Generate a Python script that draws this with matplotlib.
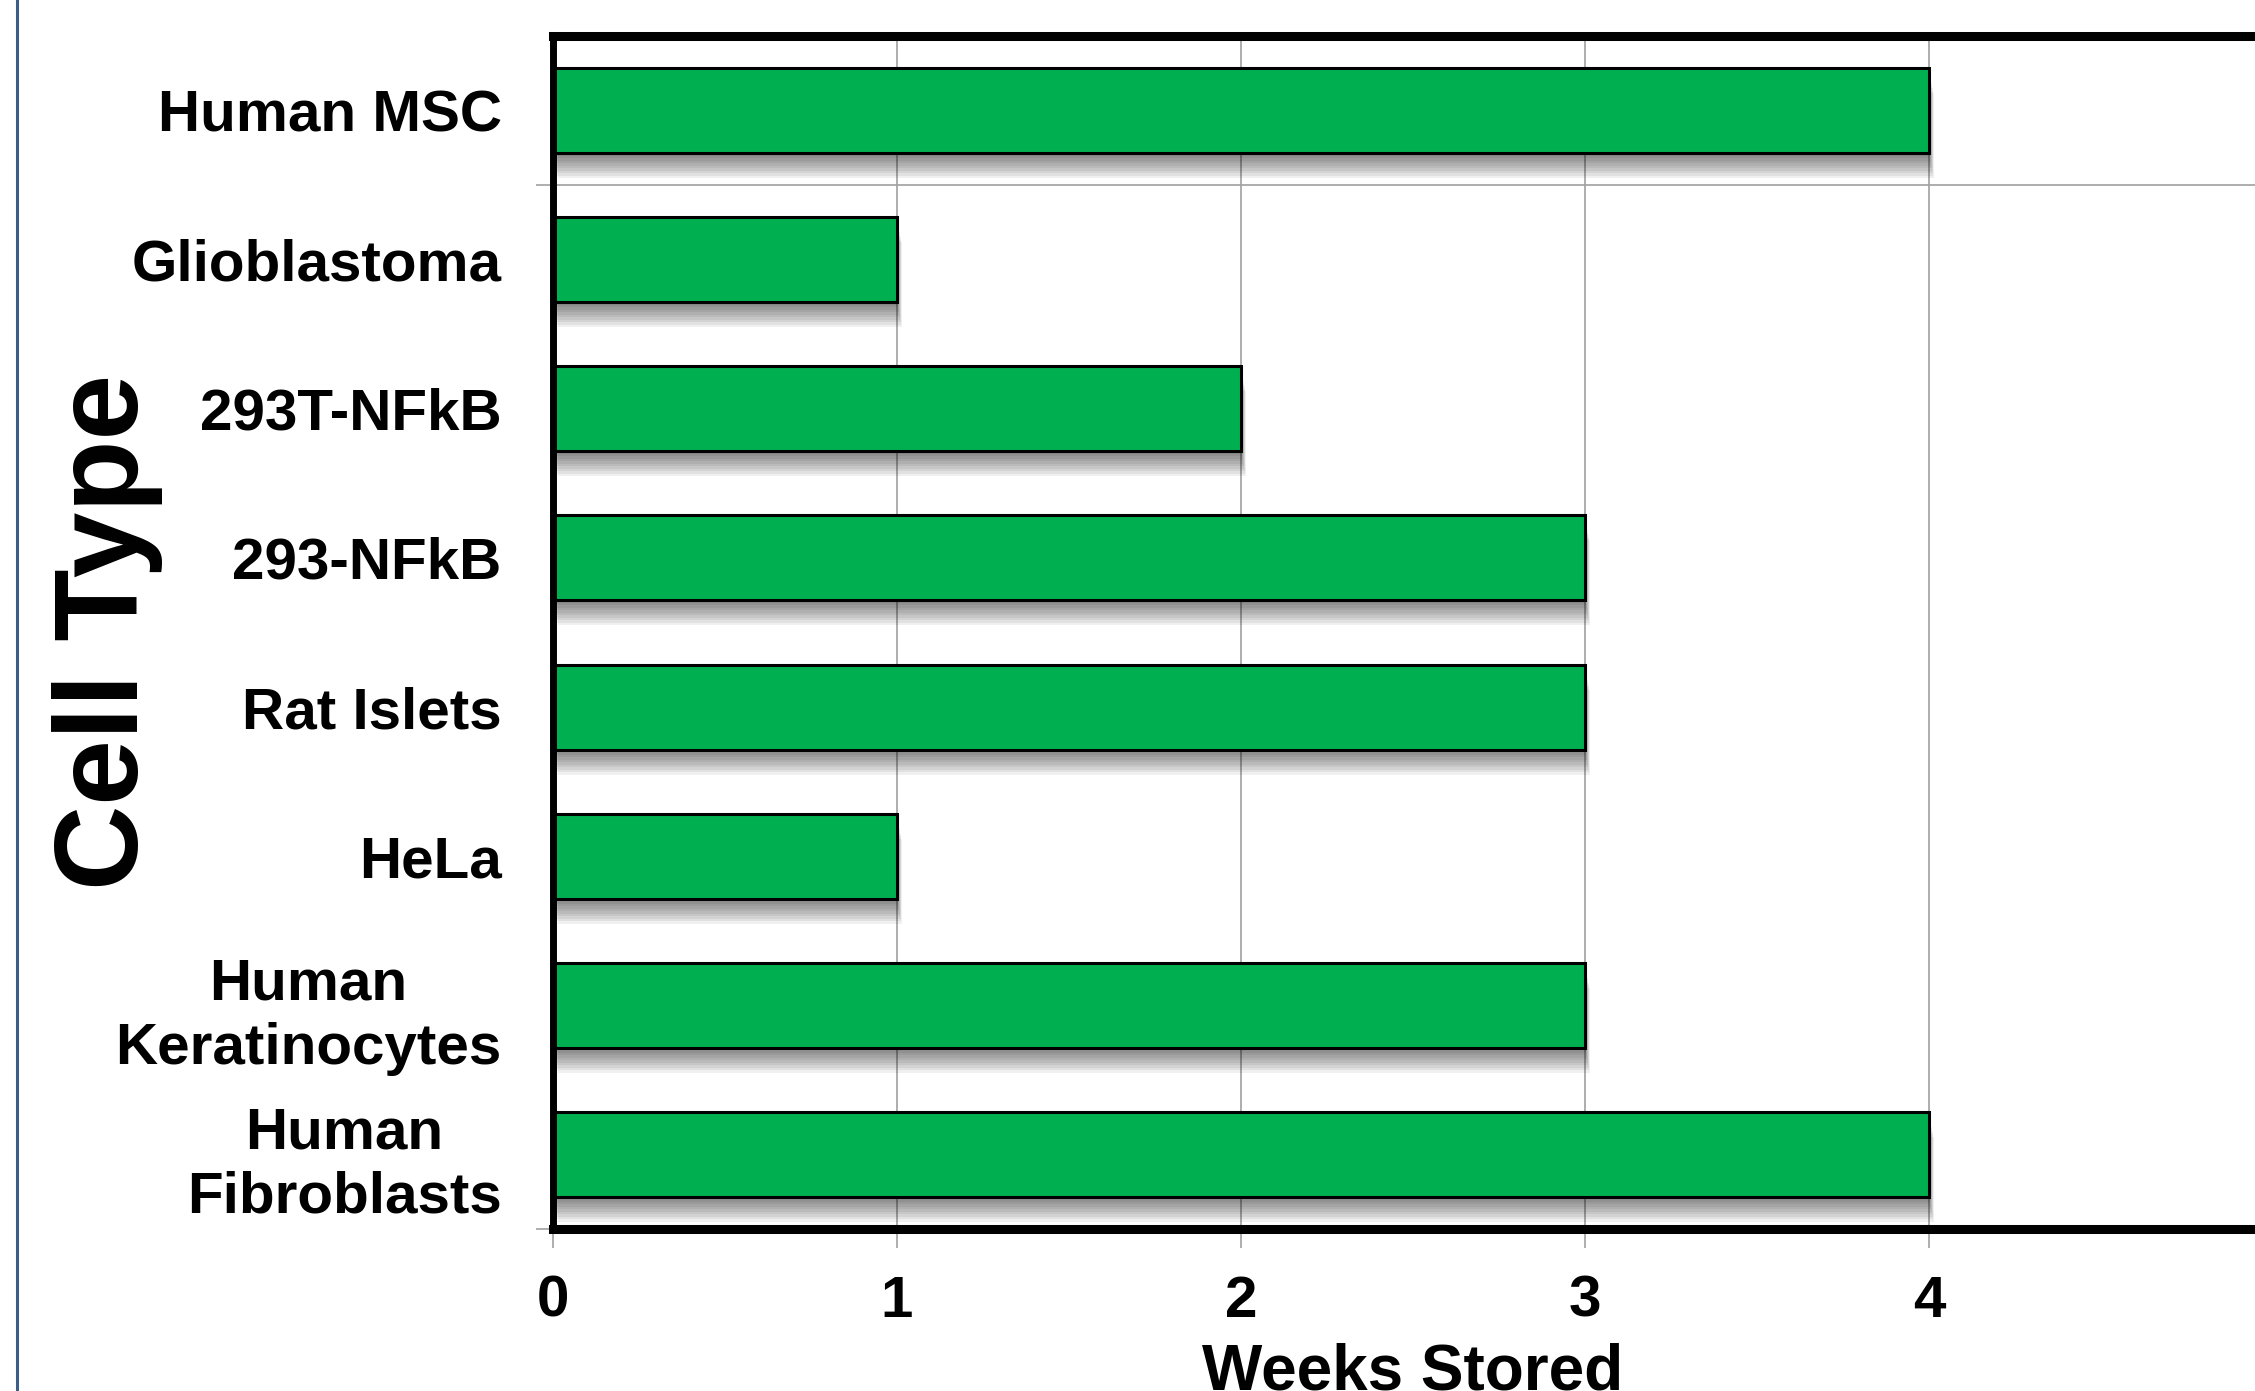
import matplotlib
matplotlib.use("Agg")
import matplotlib.pyplot as plt
import matplotlib.patheffects as pe
from matplotlib.lines import Line2D
import numpy as np

# ---- data (bottom to top) ----
cell_types = ["Human\nFibroblasts", "Human\nKeratinocytes", "HeLa", "Rat Islets",
              "293-NFkB", "293T-NFkB", "Glioblastoma", "Human MSC"]
weeks_stored = [4, 3, 1, 3, 3, 2, 1, 4]
x_ticks = [0, 1, 2, 3, 4]
x_tick_labels = ["0", "1", "2", "3", "4"]

plt.rcParams['font.family'] = ['Liberation Sans', 'DejaVu Sans']
plt.rcParams['font.weight'] = 'bold'

W, H = 2255, 1391
DPI = 100
fig = plt.figure(figsize=(W / DPI, H / DPI), dpi=DPI)
fig.patch.set_facecolor('white')

left_px, right_px, top_px, bottom_px = 553, 2273, 36, 1229
ax = fig.add_axes([left_px / W, 1 - bottom_px / H,
                   (right_px - left_px) / W, (bottom_px - top_px) / H])

ypos = np.arange(len(cell_types))

shadow = [pe.SimplePatchShadow(offset=(0.35 * k, -1.8 * k), shadow_rgbFace='black', alpha=0.06)
          for k in range(1, 11)] + [pe.Normal()]

ax.barh(ypos, weeks_stored, height=0.57, color='#00B050', edgecolor='black',
        linewidth=2.2, zorder=3, path_effects=shadow)

ax.set_xlim(0, 5)
ax.set_ylim(-0.5, len(cell_types) - 0.5)

ax.set_xticks(x_ticks)
ax.set_xticklabels(x_tick_labels, fontsize=42, fontweight='bold')
ax.tick_params(axis='x', direction='out', length=14, width=1.1, color='#999999', pad=19)

ax.set_yticks(ypos)
ax.set_yticklabels(cell_types, fontsize=42, fontweight='bold', multialignment='center',
                   linespacing=1.25)
ax.tick_params(axis='y', which='major', length=0, pad=37)
ax.set_yticks([-0.5, 6.5], minor=True)
ax.tick_params(axis='y', which='minor', direction='out', length=12, width=1.1, color='#999999')

ax.grid(axis='x', which='major', color='#A0A0A0', linewidth=1.2, zorder=0)
ax.grid(axis='y', which='minor', color='#A0A0A0', linewidth=1.2, zorder=0)
ax.set_axisbelow(True)

for name, s in ax.spines.items():
    s.set_linewidth(5.0 if name == 'left' else 6.5)
    s.set_color('black')
    s.set_zorder(5)

ax.set_xlabel("Weeks Stored", fontsize=46, fontweight='bold')
ax.xaxis.label.set_va('baseline')
ax.xaxis.set_label_coords(0.5, (bottom_px - 1389) / (bottom_px - top_px))

ax.set_ylabel("Cell Type", fontsize=85, fontweight='bold')
ax.yaxis.label.set_va('baseline')
ax.yaxis.set_label_coords((138 - left_px) / (right_px - left_px),
                          (bottom_px - 632) / (bottom_px - top_px))

# slide border line at far left
fig.add_artist(Line2D([17 / W, 17 / W], [0, 1], transform=fig.transFigure,
                      color='#3B5E86', linewidth=2.2))

fig.savefig("out.png", dpi=DPI)
